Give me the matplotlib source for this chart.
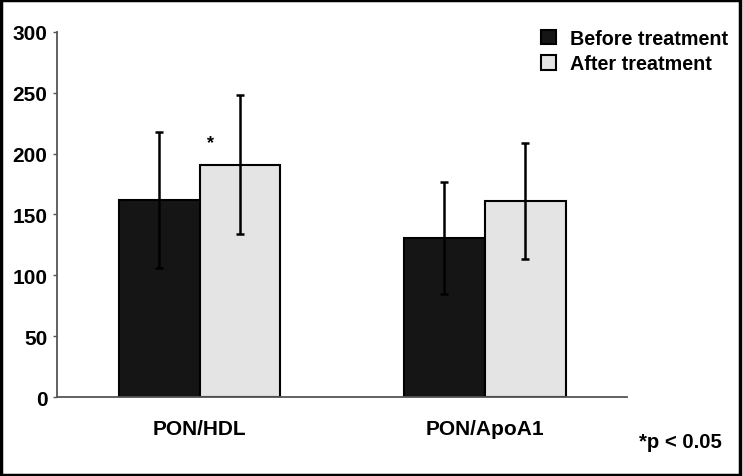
import numpy as np
import matplotlib.pyplot as plt
from matplotlib.patches import Rectangle

plt.rcParams['font.family'] = ['Liberation Sans', 'DejaVu Sans']
plt.rcParams['font.weight'] = 'bold'

categories = ['PON/HDL', 'PON/ApoA1']
before = [162, 131]
after = [191, 161]
before_err = [56, 46]
after_err = [57, 48]
y_ticks = [0, 50, 100, 150, 200, 250, 300]

fig = plt.figure(figsize=(7.43, 4.77), dpi=100)
ax = fig.add_axes([0.0767, 0.1656, 0.7673, 0.7654])

x = np.arange(len(categories))
w = 0.284
ax.bar(x - w / 2, before, w, color='#151515', edgecolor='black', linewidth=1.5,
       label='Before treatment', zorder=2)
ax.bar(x + w / 2, after, w, color='#e4e4e4', edgecolor='black', linewidth=1.5,
       label='After treatment', zorder=2)
ax.errorbar(x - w / 2, before, yerr=before_err, fmt='none', ecolor='black',
            elinewidth=1.8, capsize=2.7, capthick=1.8, zorder=3)
ax.errorbar(x + w / 2, after, yerr=after_err, fmt='none', ecolor='black',
            elinewidth=1.8, capsize=2.7, capthick=1.8, zorder=3)

# significance mark
ax.text(x[0] + 0.04, 209, '*', ha='center', va='center', fontsize=13)

ax.set_xlim(-0.5, 1.5)
ax.set_ylim(0, 300)
ax.set_yticks(y_ticks)
ax.set_xticks(x)
ax.set_xticklabels(categories)
ax.tick_params(axis='x', length=0, pad=16, labelsize=15)
ax.tick_params(axis='y', length=3, width=1, color='#555555', labelsize=15, pad=4)
for s in ['top', 'right']:
    ax.spines[s].set_visible(False)
for s in ['left', 'bottom']:
    ax.spines[s].set_color('#555555')
    ax.spines[s].set_linewidth(1.3)

ax.legend(loc='upper left', bbox_to_anchor=(0.835, 1.03), frameon=False,
          fontsize=14.2, handlelength=0.74, handleheight=0.74, handletextpad=0.74,
          labelspacing=0.33, borderaxespad=0)

fig.text(0.9717, 0.073, '*p < 0.05', ha='right', va='center', fontsize=14.6)

fig.patches.append(Rectangle((0.0015, 0.003), 0.995, 0.994, transform=fig.transFigure,
                             fill=False, edgecolor='black', linewidth=2.5))

fig.savefig('out.png', dpi=100)
